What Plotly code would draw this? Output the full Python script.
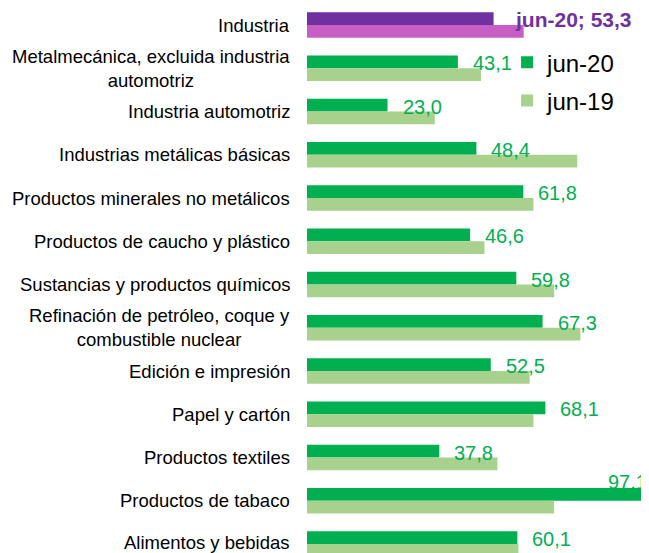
import plotly.graph_objects as go

categories = [
    "Industria",
    "Metalmecánica, excluida industria<br>automotriz",
    "Industria automotriz",
    "Industrias metálicas básicas",
    "Productos minerales no metálicos",
    "Productos de caucho y plástico",
    "Sustancias y productos químicos",
    "Refinación de petróleo, coque y<br>combustible nuclear",
    "Edición e impresión",
    "Papel y cartón",
    "Productos textiles",
    "Productos de tabaco",
    "Alimentos y bebidas",
]
jun20 = [53.3, 43.1, 23.0, 48.4, 61.8, 46.6, 59.8, 67.3, 52.5, 68.1, 37.8, 97.1, 60.1]
jun19 = [61.9, 49.7, 36.5, 77.2, 64.7, 50.7, 70.6, 78.1, 63.6, 64.7, 54.4, 70.6, 60.4]
series_names = ["jun-20", "jun-19"]

GREEN = "#00B050"
LIGHT_GREEN = "#A9D18E"
PURPLE = "#7030A0"
PINK = "#C75EC4"
FONT = "Liberation Sans, Arial, sans-serif"

fig = go.Figure()
# Sectors (green)
fig.add_trace(go.Bar(y=categories[1:], x=jun20[1:], orientation="h", name=series_names[0],
                     legendgroup="a", marker=dict(color=GREEN, line=dict(width=0)), offsetgroup="a"))
fig.add_trace(go.Bar(y=categories[1:], x=jun19[1:], orientation="h", name=series_names[1],
                     legendgroup="b", marker=dict(color=LIGHT_GREEN, line=dict(width=0)), offsetgroup="b"))
# Industria total (purple)
fig.add_trace(go.Bar(y=categories[:1], x=jun20[:1], orientation="h", showlegend=False,
                     legendgroup="a", marker=dict(color=PURPLE, line=dict(width=0)), offsetgroup="a"))
fig.add_trace(go.Bar(y=categories[:1], x=jun19[:1], orientation="h", showlegend=False,
                     legendgroup="b", marker=dict(color=PINK, line=dict(width=0)), offsetgroup="b"))

annotations = []
# Category labels (centered multi-line, right edge near axis)
for i, c in enumerate(categories):
    annotations.append(dict(
        x=0, xref="paper", y=c, yref="y", text=c, showarrow=False,
        xanchor="right", yanchor="middle", align="center", xshift=-15,
        yshift=2 if i == len(categories) - 1 else 0,
        font=dict(family=FONT, size=18.5, color="#000000"),
    ))

# Value labels for jun-20
for i, (c, v) in enumerate(zip(categories, jun20)):
    txt = f"{v:.1f}".replace(".", ",")
    if i == 0:
        annotations.append(dict(
            x=v, y=c, xref="x", yref="y", text="<b>jun-20; " + txt + "</b>", showarrow=False,
            xanchor="left", yanchor="middle", xshift=19, yshift=6,
            font=dict(family=FONT, size=21, color=PURPLE),
        ))
    elif v == max(jun20):
        annotations.append(dict(
            x=v, y=c, xref="x", yref="y", text=txt, showarrow=False,
            xanchor="right", yanchor="middle", xshift=2, yshift=19,
            font=dict(family=FONT, size=20, color=GREEN),
        ))
    else:
        annotations.append(dict(
            x=v, y=c, xref="x", yref="y", text=txt, showarrow=False,
            xanchor="left", yanchor="middle", xshift=13, yshift=5,
            font=dict(family=FONT, size=20, color=GREEN),
        ))

fig.update_layout(
    width=641, height=545,
    margin=dict(l=299, r=0, t=0, b=0),
    paper_bgcolor="white", plot_bgcolor="white",
    barmode="group", bargap=0.415, bargroupgap=0,
    xaxis=dict(range=[0, 97.7], visible=False, showgrid=False, zeroline=False),
    yaxis=dict(categoryorder="array", categoryarray=categories,
               range=[12.208, -0.393], showticklabels=False, showgrid=False,
               zeroline=False, showline=False, ticks=""),
    legend=dict(x=0.585, xanchor="left", y=0.941, yanchor="top",
                font=dict(family=FONT, size=24, color="#000000"),
                bgcolor="rgba(0,0,0,0)", traceorder="grouped", tracegroupgap=4),
    annotations=annotations,
    showlegend=True,
)

fig.write_html("out.html")
